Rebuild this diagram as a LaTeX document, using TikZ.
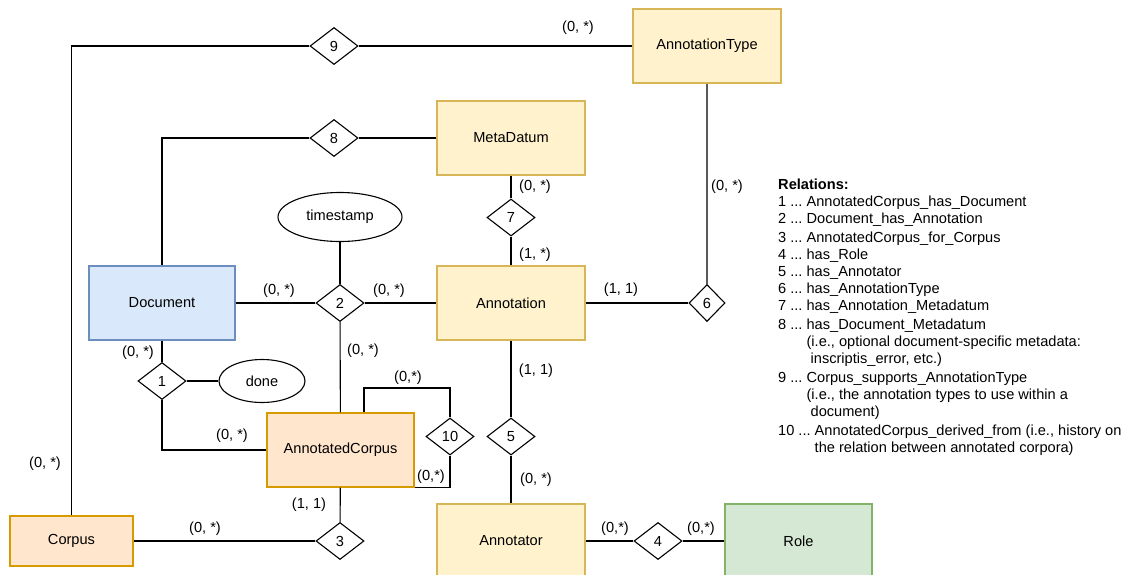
\documentclass[tikz,border=0pt]{standalone}
\usepackage{fontspec}
\setmainfont{Liberation Sans}
\usetikzlibrary{shapes.geometric}
\frenchspacing

\definecolor{yelfill}{HTML}{FFF2CC}
\definecolor{yeldraw}{HTML}{D6B656}
\definecolor{bluefill}{HTML}{DAE8FC}
\definecolor{bluedraw}{HTML}{6C8EBF}
\definecolor{orafill}{HTML}{FFE6CC}
\definecolor{oradraw}{HTML}{D79B00}
\definecolor{grnfill}{HTML}{D5E8D4}
\definecolor{grndraw}{HTML}{82B366}

\begin{document}
\begin{tikzpicture}[x=1pt,y=-1pt,
    font=\fontsize{14.6pt}{17.1pt}\selectfont,
    entity/.style={draw,rectangle,line width=1.2pt,minimum width=148pt,minimum height=74pt,inner sep=0pt},
    yel/.style={entity,fill=yelfill,draw=yeldraw},
    blu/.style={entity,fill=bluefill,draw=bluedraw},
    ora/.style={entity,fill=orafill,draw=oradraw},
    grn/.style={entity,fill=grnfill,draw=grndraw},
    relship/.style={diamond,draw,fill=white,line width=1.1pt,minimum width=48pt,minimum height=37pt,inner sep=0pt},
    attr/.style={ellipse,draw,fill=white,line width=1.1pt,inner sep=0pt},
    card/.style={inner sep=0pt}]

        \path[use as bounding box,fill=white] (0,0) rectangle (1123,574);

        % entities
        \node[yel] (atype) at (707,46)  {AnnotationType};
        \node[yel] (meta)  at (511,138) {MetaDatum};
        \node[yel] (ann)   at (511,303) {Annotation};
        \node[blu,minimum width=146pt] (doc) at (162,303) {Document};
        \node[ora,minimum width=147pt] (acorp) at (340.5,450) {AnnotatedCorpus};
        \node[ora,minimum width=123pt,minimum height=50pt] (corp) at (71.5,541) {Corpus};
        \node[yel] (annr)  at (511,541) {Annotator};
        \node[grn,minimum width=147pt] (role) at (798.5,541) {Role};

        % attributes
        \node[attr,minimum width=124pt,minimum height=49pt] (ts) at (340,217) {timestamp};
        \node[attr,minimum width=86pt,minimum height=43pt] (done) at (262,381) {done};

        % relations
        \begin{scope}[every node/.style={relship}]
          \node (r1)  at (162,381)   {1};
          \node (r2)  at (340,303)   {2};
          \node (r3)  at (340,541)   {3};
          \node (r4)  at (658,541)   {4};
          \node (r5)  at (511,436.5) {5};
          \node[minimum width=36pt] (r6) at (707,303) {6};
          \node (r7)  at (511,217.5) {7};
          \node (r8)  at (334,138)   {8};
          \node (r9)  at (334,46)    {9};
          \node (r10) at (450,436.5) {10};
        \end{scope}

        \coordinate (loop) at (364,388);

        \begin{scope}[line width=1.1pt]
          \begin{scope}[every edge/.style={draw}]
            \path (r9)   edge (atype);
            \path (r8)   edge (meta);
            \path (meta) edge (r7);
            \path (r7)   edge (ann);
            \path (r6)   edge (ann);
            \path (doc)  edge (r2);
            \path (r2)   edge (ann);
            \path (ts)   edge (r2);
            \path (r2)   edge (acorp);
            \path (doc)  edge (r1);
            \path (r1)   edge (done);
            \path (acorp) edge (r3);
            \path (r3)   edge (corp);
            \path (ann)  edge (r5);
            \path (r5)   edge (annr);
            \path (annr) edge (r4);
            \path (r4)   edge (role);
          \end{scope}
          \draw[black!65] (atype) -- (r6);
          \draw (r9) -| (corp);
          \draw (r8) -| (doc);
          \draw (r1) |- (acorp);
          \draw (acorp.north -| loop) -- (loop) -| (r10);
          \draw (r10) |- (acorp.south east);
        \end{scope}

        % cardinalities
        \begin{scope}[every node/.style={card}]
          \node (c1)  at (578,28)  {(0, *)};
          \node (c2)  at (45,464)  {(0, *)};
          \node (c3)  at (535,187) {(0, *)};
          \node (c4)  at (535,255) {(1, *)};
          \node (c5)  at (727,187) {(0, *)};
          \node (c6)  at (621,290) {(1, 1)};
          \node (c7)  at (279,291) {(0, *)};
          \node (c8)  at (389,291) {(0, *)};
          \node (c9)  at (138,353) {(0, *)};
          \node (c10) at (363,351) {(0, *)};
          \node (c11) at (408,378) {(0,*)};
          \node (c12) at (232,436) {(0, *)};
          \node (c13) at (431,477) {(0,*)};
          \node (c14) at (309,505) {(1, 1)};
          \node (c15) at (205,529) {(0, *)};
          \node (c16) at (536,371) {(1, 1)};
          \node (c17) at (536,480) {(0, *)};
          \node (c18) at (615,529) {(0,*)};
          \node (c19) at (701,529) {(0,*)};
        \end{scope}

        % legend
        \node[anchor=north west,align=left,inner sep=0pt] (legend) at (778,178.5) {%
          \textbf{Relations:}\\
          1 ... AnnotatedCorpus\_has\_Document\\
          2 ... Document\_has\_Annotation\\[1.7pt]
          3 ... AnnotatedCorpus\_for\_Corpus\\
          4 ... has\_Role\\
          5 ... has\_Annotator\\
          6 ... has\_AnnotationType\\
          7 ... has\_Annotation\_Metadatum\\[2pt]
          8 ... has\_Document\_Metadatum\\
          \phantom{8 ... }(i.e., optional document-specific metadata:\\
          \phantom{8 ... } inscriptis\_error, etc.)\\[1.5pt]
          9 ... Corpus\_supports\_AnnotationType\\
          \phantom{9 ... }(i.e., the annotation types to use within a\\
          \phantom{9 ... } document)\\[2pt]
          10 ... AnnotatedCorpus\_derived\_from (i.e., history on\\
          \phantom{10 ... }the relation between annotated corpora)};

      \end{tikzpicture}
\end{document}
